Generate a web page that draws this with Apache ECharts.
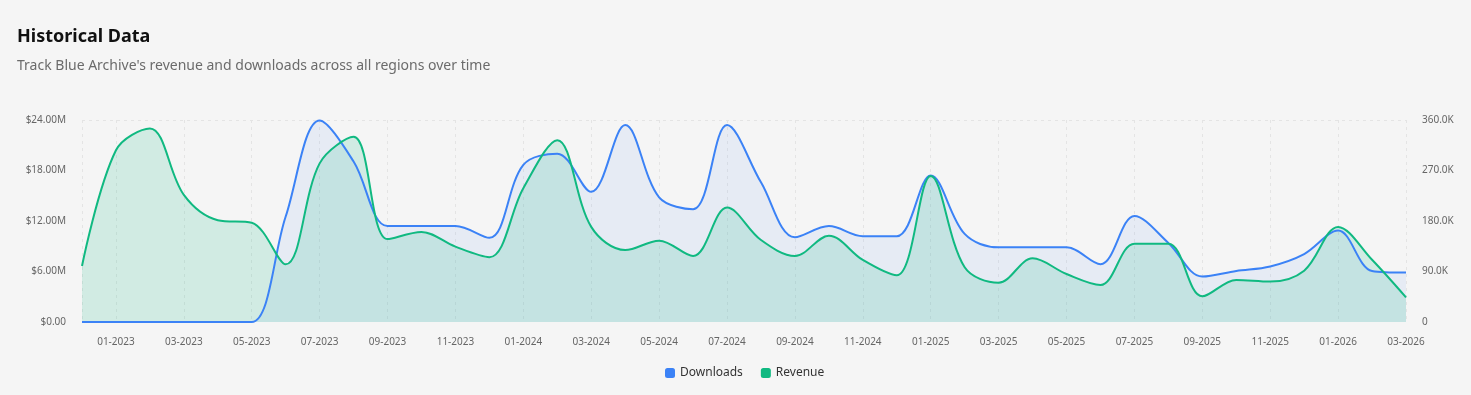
<!DOCTYPE html>
<html>
<head>
<meta charset="utf-8">
<script src="https://cdn.jsdelivr.net/npm/echarts@6/dist/echarts.min.js"></script>
<style>
html,body{margin:0;padding:0;background:#f5f5f5;}
#c{width:1471px;height:395px;}
</style>
</head>
<body>
<div id="c"></div>
<script>
const months = ['12-2022','01-2023','02-2023','03-2023','04-2023','05-2023','06-2023','07-2023','08-2023','09-2023','10-2023','11-2023','12-2023','01-2024','02-2024','03-2024','04-2024','05-2024','06-2024','07-2024','08-2024','09-2024','10-2024','11-2024','12-2024','01-2025','02-2025','03-2025','04-2025','05-2025','06-2025','07-2025','08-2025','09-2025','10-2025','11-2025','12-2025','01-2026','02-2026','03-2026'];
// Downloads (units)
const downloads = [0,0,0,0,0,0,188000,359000,286000,171000,171000,171000,150000,280000,300000,232000,351000,222000,201000,351000,249000,151000,171000,153000,153000,261000,157000,133000,133000,133000,103000,189000,141000,81000,91000,99000,121000,163000,91000,88000];
// Revenue (USD)
const revenue = [6.65e6,20.4e6,23.0e6,15.1e6,12.1e6,11.8e6,6.85e6,18.85e6,22.0e6,9.85e6,10.7e6,8.95e6,7.7e6,15.9e6,21.6e6,11.3e6,8.55e6,9.66e6,7.84e6,13.6e6,9.74e6,7.84e6,10.26e6,7.37e6,5.54e6,17.35e6,6.5e6,4.67e6,7.56e6,5.7e6,4.4e6,9.3e6,9.3e6,3.05e6,5.0e6,4.8e6,6.1e6,11.3e6,7.4e6,2.93e6];
const revenueTicks = {min:0, max:24e6, interval:6e6};
const downloadTicks = {min:0, max:360000, interval:90000};

const chart = echarts.init(document.getElementById('c'));
const font = 'Noto Sans';
const labelColor = '#666';
const showIdx = (i) => i % 2 === 1;
chart.setOption({
  backgroundColor:'#f5f5f5',
  textStyle:{fontFamily:font},
  title:{
    text:'Historical Data',
    subtext:"Track Blue Archive's revenue and downloads across all regions over time",
    left:12, top:23, itemGap:13,
    textStyle:{fontFamily:font,fontSize:18,fontWeight:'bold',color:'#111'},
    subtextStyle:{fontFamily:font,fontSize:14,color:'#6b6b6b'}
  },
  legend:{
    bottom:11, left:660, icon:'roundRect', itemWidth:10, itemHeight:10, itemGap:18,
    textStyle:{fontFamily:font,fontSize:12,color:'#333'},
    data:['Downloads','Revenue']
  },
  grid:{left:82,right:65,top:120,bottom:73,containLabel:false},
  xAxis:{
    type:'category', data:months, boundaryGap:false,
    axisLine:{show:false}, axisTick:{show:false},
    axisLabel:{interval:(i)=>showIdx(i), color:labelColor, fontSize:10, margin:15, fontFamily:font},
    splitLine:{show:true, interval:(i)=>i===0||showIdx(i), lineStyle:{color:'#e4e4e4',type:[3,4],width:1}}
  },
  yAxis:[
    {type:'value', min:revenueTicks.min, max:revenueTicks.max, interval:revenueTicks.interval,
     axisLine:{show:false}, axisTick:{show:false},
     axisLabel:{color:labelColor,fontSize:10,margin:16,fontFamily:font,formatter:(v)=>'$'+(v/1e6).toFixed(2)+(v===0?'':'M')},
     splitLine:{show:true,lineStyle:{color:['transparent','transparent','transparent','transparent','#e4e4e4'],type:[3,4]}}},
    {type:'value', min:downloadTicks.min, max:downloadTicks.max, interval:downloadTicks.interval,
     axisLine:{show:false}, axisTick:{show:false},
     axisLabel:{color:labelColor,fontSize:10,margin:16,fontFamily:font,formatter:(v)=>v===0?'0':(v/1000).toFixed(1)+'K'},
     splitLine:{show:false}}
  ],
  series:[
    {name:'Downloads', type:'line', yAxisIndex:1, data:downloads, smooth:0.35, symbol:'none',
     itemStyle:{color:'#3b82f6'}, lineStyle:{color:'#3b82f6',width:2},
     areaStyle:{color:'rgba(59,130,246,0.11)'}},
    {name:'Revenue', type:'line', yAxisIndex:0, data:revenue, smooth:0.35, symbol:'none',
     itemStyle:{color:'#10b981'}, lineStyle:{color:'#10b981',width:2},
     areaStyle:{color:'rgba(16,185,129,0.22)'}}
  ]
});
</script>
</body>
</html>
